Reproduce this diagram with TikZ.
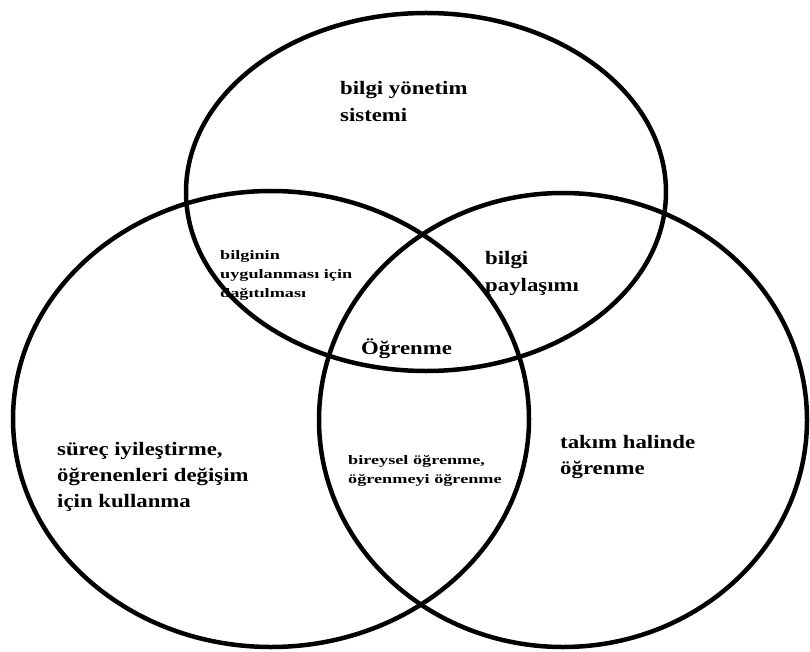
\documentclass[tikz,border=0pt]{standalone}
\usepackage{fontspec}
\setmainfont{Liberation Serif}
\newfontfamily\widebig[FakeStretch=1.2]{Liberation Serif}
\newfontfamily\widesmall[FakeStretch=1.4]{Liberation Serif}
\begin{document}
\begin{tikzpicture}[x=1pt,y=-1pt,
  ring/.style={draw=black,line width=4.5pt},
  big/.style={font=\widebig\bfseries\fontsize{19}{27}\selectfont,align=left,anchor=north west,inner sep=0pt},
  small/.style={font=\widesmall\bfseries\fontsize{13}{19}\selectfont,align=left,anchor=north west,inner sep=0pt}]
\useasboundingbox (0,0) rectangle (810,652);
% three overlapping ellipses
\draw[ring] (426,192) ellipse [x radius=240, y radius=179];
\draw[ring] (271,419) ellipse [x radius=258, y radius=228];
\draw[ring] (563,420) ellipse [x radius=244, y radius=227];
% labels
\node[big] (kms) at (340,81) {bilgi yönetim\\sistemi};
\node[small] (dist) at (220,250) {bilginin\\uygulanması için\\dağıtılması};
\node[big] (share) at (485,251) {bilgi\\paylaşımı};
\node[big] (learn) at (361,338) {Öğrenme};
\node[big,font=\widebig\bfseries\fontsize{19}{26}\selectfont] (proc) at (57,442) {süreç iyileştirme,\\öğrenenleri değişim\\için kullanma};
\node[small] (indiv) at (348,455) {bireysel öğrenme,\\öğrenmeyi öğrenme};
\node[big,font=\widebig\bfseries\fontsize{19}{26}\selectfont] (team) at (560,435) {takım halinde\\öğrenme};
\end{tikzpicture}
\end{document}
